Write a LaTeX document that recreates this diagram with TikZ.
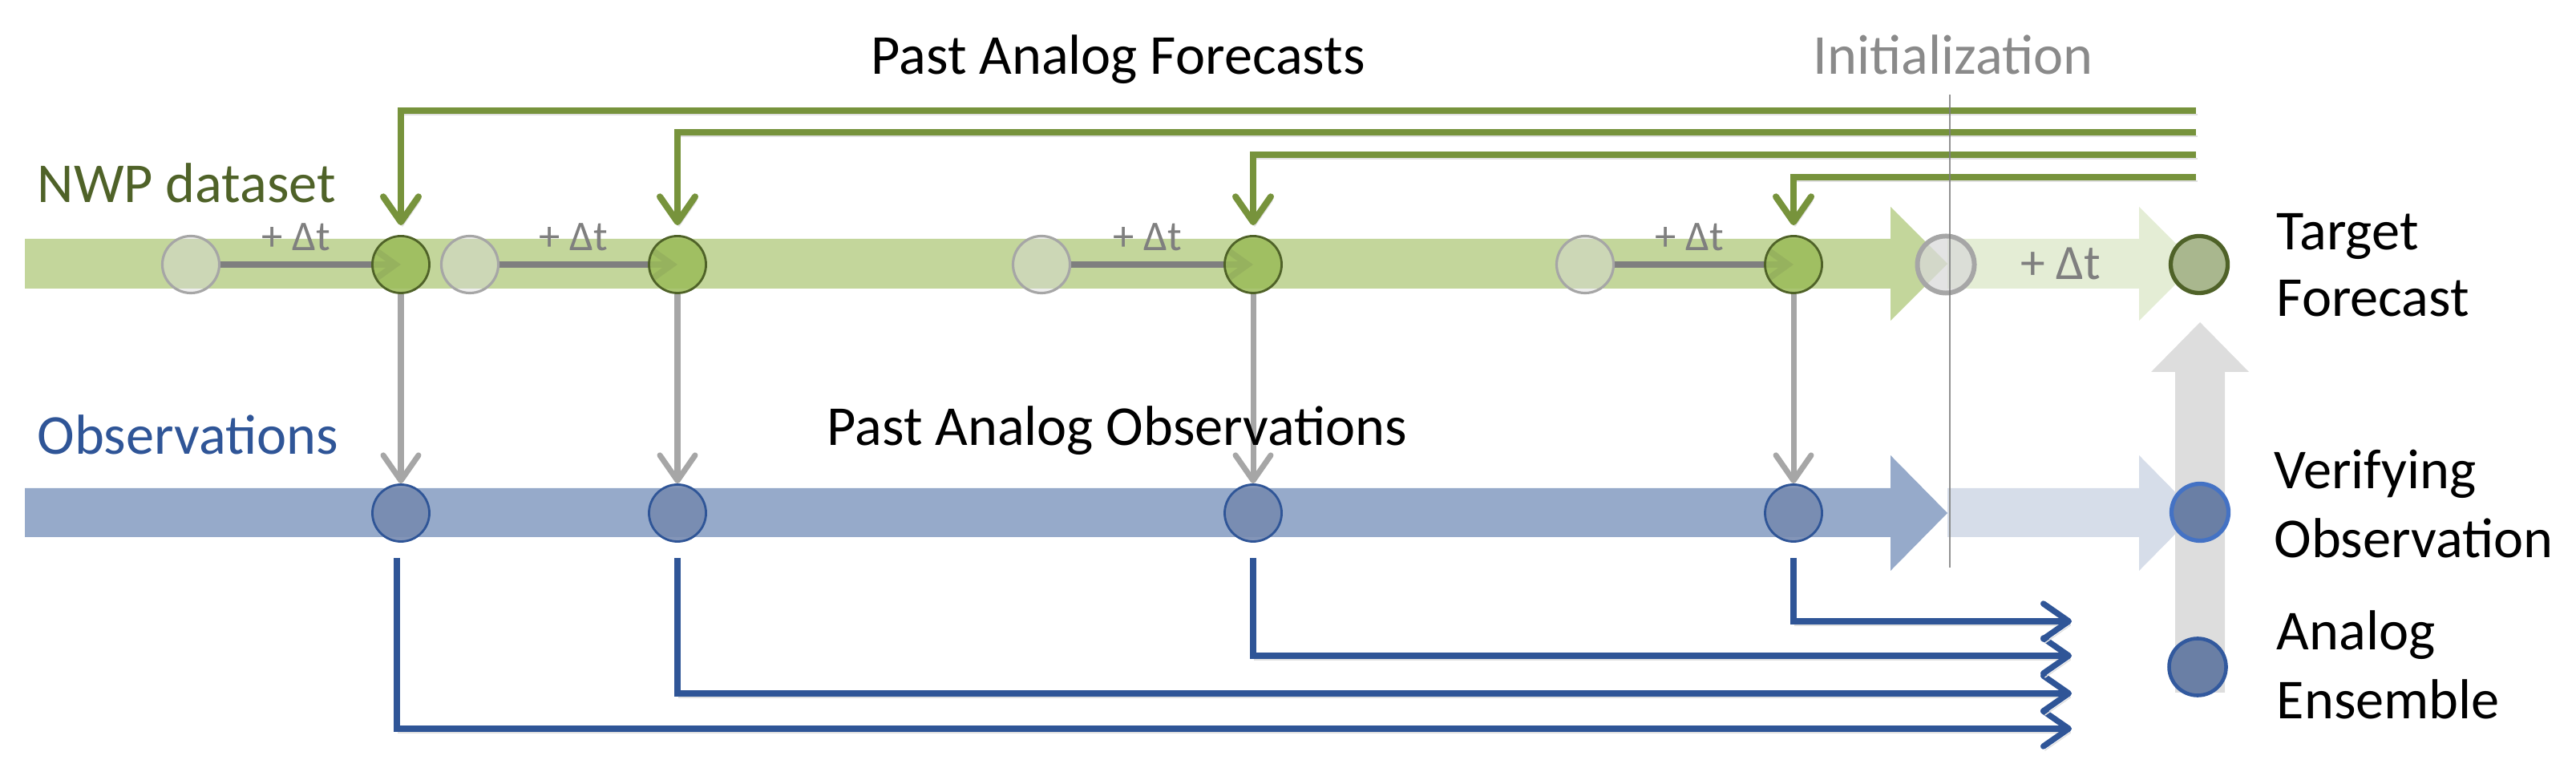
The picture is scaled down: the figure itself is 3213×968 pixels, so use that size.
\documentclass[tikz,border=0pt]{standalone}
\usepackage{fontspec}
\setmainfont{Carlito}
\usetikzlibrary{arrows.meta}
\definecolor{cBandG}{HTML}{C3D69B}
\definecolor{cBandGL}{HTML}{E4EDD5}
\definecolor{cBandB}{HTML}{96AACA}
\definecolor{cBandBL}{HTML}{D6DDE9}
\definecolor{cOlive}{HTML}{77933C}
\definecolor{cDolive}{HTML}{4F6228}
\definecolor{cNavy}{HTML}{2F5597}
\definecolor{cBright}{HTML}{4472C4}
\definecolor{cMgray}{HTML}{7F7F7F}
\definecolor{cLgray}{HTML}{A6A6A6}
\definecolor{cPgray}{HTML}{D9D9D9}
\definecolor{cTgray}{HTML}{8A8A8A}
\definecolor{cObs}{HTML}{768AB0}
\definecolor{cVer}{HTML}{6A7FA5}
\definecolor{cGfill}{HTML}{9BBB59}
\definecolor{cTfill}{HTML}{A9B78E}
\pgfdeclarelayer{bands}
\pgfdeclarelayer{under}
\pgfsetlayers{bands,under,main}
\begin{document}
\begin{tikzpicture}[x=0.01cm,y=-0.01cm,
  dot/.style={circle, minimum size=0.71cm, inner sep=0pt},
  pastdot/.style={dot, draw=cLgray, line width=0.9pt, fill=cPgray, fill opacity=0.45},
  initdot/.style={dot, draw=cLgray, line width=1.7pt, fill=cPgray, fill opacity=0.75},
  fcdot/.style={dot, draw=cDolive, line width=0.8pt, fill=cGfill, fill opacity=0.85},
  targetdot/.style={dot, draw=cDolive, line width=1.5pt, fill=cTfill},
  obsdot/.style={dot, draw=cNavy, line width=0.8pt, fill=cObs, fill opacity=0.9},
  verdot/.style={dot, draw=cBright, line width=1.5pt, fill=cVer},
  ensdot/.style={dot, draw=cNavy!85!cBright, line width=1.3pt, fill=cVer},
  shade/.style={preaction={draw=black!12, transform canvas={xshift=0.02cm,yshift=-0.05cm}}},
  gline/.style={shade, draw=cOlive, line width=2.3pt, -{Straight Barb[length=9pt,width=12.5pt,round]}, shorten >=0.12cm},
  bline/.style={shade, draw=cNavy, line width=2.1pt, -{Straight Barb[length=9pt,width=12.5pt,round]}},
  garrow/.style={draw=cLgray, line width=2pt, -{Straight Barb[length=9pt,width=12.5pt,round]}},
  dtarrow/.style={draw=cMgray, line width=2.2pt, -{Straight Barb[length=7pt,width=10pt]}},
  lbl/.style={inner sep=0pt, font=\fontsize{20}{24}\selectfont},
  dtlbl/.style={inner sep=0pt, text=cMgray, font=\fontsize{15}{18}\selectfont}
]
\useasboundingbox (0,0) rectangle (3213,968);

% band arrows
\begin{pgfonlayer}{bands}
\fill[cBandG] (31,298) -- (2358,298) -- (2358,258) -- (2429,329) -- (2358,400) -- (2358,360) -- (31,360) -- cycle;
\fill[cBandGL] (2429,298) -- (2668,298) -- (2668,258) -- (2739,329) -- (2668,400) -- (2668,360) -- (2429,360) -- cycle;
\fill[cBandB] (31,609) -- (2358,609) -- (2358,568) -- (2429,640) -- (2358,712) -- (2358,670) -- (31,670) -- cycle;
\fill[cBandBL] (2429,609) -- (2668,609) -- (2668,568) -- (2739,640) -- (2668,712) -- (2668,670) -- (2429,670) -- cycle;
\fill[cPgray, opacity=0.9] (2713,864) -- (2713,464) -- (2683,464) -- (2744,402) -- (2805,464) -- (2775,464) -- (2775,864) -- cycle;
\end{pgfonlayer}

% NWP nodes
\node[pastdot] (p1) at (238,330) {};
\node[pastdot] (p2) at (586,330) {};
\node[pastdot] (p3) at (1299,330) {};
\node[pastdot] (p4) at (1977,330) {};
\node[fcdot] (g1) at (500,330) {};
\node[fcdot] (g2) at (845,330) {};
\node[fcdot] (g3) at (1563,330) {};
\node[fcdot] (g4) at (2237,330) {};
\node[initdot] (ini) at (2427,330) {};
\node[targetdot] (tf) at (2743,330) {};

% observation nodes
\node[obsdot] (o1) at (500,640) {};
\node[obsdot] (o2) at (845,640) {};
\node[obsdot] (o3) at (1563,640) {};
\node[obsdot] (o4) at (2237,640) {};
\node[verdot] (vo) at (2744,639) {};
\node[ensdot] (ae) at (2741,832) {};

% +dt arrows under the forecast dots
\begin{pgfonlayer}{under}
\draw[dtarrow] (p1) -- (g1.center);
\draw[dtarrow] (p2) -- (g2.center);
\draw[dtarrow] (p3) -- (g3.center);
\draw[dtarrow] (p4) -- (g4.center);
\end{pgfonlayer}

% past analog forecasts connectors
\coordinate (f1) at (2739,138);
\coordinate (f2) at (2739,165);
\coordinate (f3) at (2739,193);
\coordinate (f4) at (2739,221);
\draw[gline] (f1) -| (g1);
\draw[gline] (f2) -| (g2);
\draw[gline] (f3) -| (g3);
\draw[gline] (f4) -| (g4);

% forecast to observation
\draw[garrow] (g1) -- (o1);
\draw[garrow] (g2) -- (o2);
\draw[garrow] (g3) -- (o3);
\draw[garrow] (g4) -- (o4);

% observations to ensemble
\coordinate (e1) at (2584,909);
\coordinate (e2) at (2584,865);
\coordinate (e3) at (2584,818);
\coordinate (e4) at (2584,775);
\draw[bline] ([xshift=-0.05cm,yshift=-0.19cm]o1.south) |- (e1);
\draw[bline] ([yshift=-0.19cm]o2.south) |- (e2);
\draw[bline] ([yshift=-0.19cm]o3.south) |- (e3);
\draw[bline] ([yshift=-0.19cm]o4.south) |- (e4);

% initialization line
\coordinate (it) at (2432,118);
\coordinate (ib) at (2432,708);
\draw[cMgray, line width=0.6pt, opacity=0.85] (it) -- (ib);

% labels
\node[lbl, anchor=base west] (tpaf) at (1086,93) {Past Analog Forecasts};
\node[lbl, anchor=base west, text=cTgray] (tini) at (2261,93) {Initialization};
\node[lbl, anchor=base west, text=cDolive] (tnwp) at (46,253) {NWP dataset};
\node[lbl, anchor=base west, text=cNavy] (tobs) at (46,567) {Observations};
\node[lbl, anchor=base west] (tpao) at (1031,556) {Past Analog Observations};
\node[lbl, anchor=base west] (ttf1) at (2839,312) {Target};
\node[lbl, anchor=base west] (ttf2) at (2839,395) {Forecast};
\node[lbl, anchor=base west] (tvo1) at (2836,610) {Verifying};
\node[lbl, anchor=base west] (tvo2) at (2836,696) {Observation};
\node[lbl, anchor=base west] (tae1) at (2839,811) {Analog};
\node[lbl, anchor=base west] (tae2) at (2839,897) {Ensemble};

\node[dtlbl, anchor=base] (d1) at (369,313) {+ Δt};
\node[dtlbl, anchor=base] (d2) at (715,313) {+ Δt};
\node[dtlbl, anchor=base] (d3) at (1431,313) {+ Δt};
\node[dtlbl, anchor=base] (d4) at (2107,313) {+ Δt};
\node[dtlbl, anchor=base, font=\fontsize{17.5}{20}\selectfont] (d5) at (2570,349) {+ Δt};
\end{tikzpicture}
\end{document}
